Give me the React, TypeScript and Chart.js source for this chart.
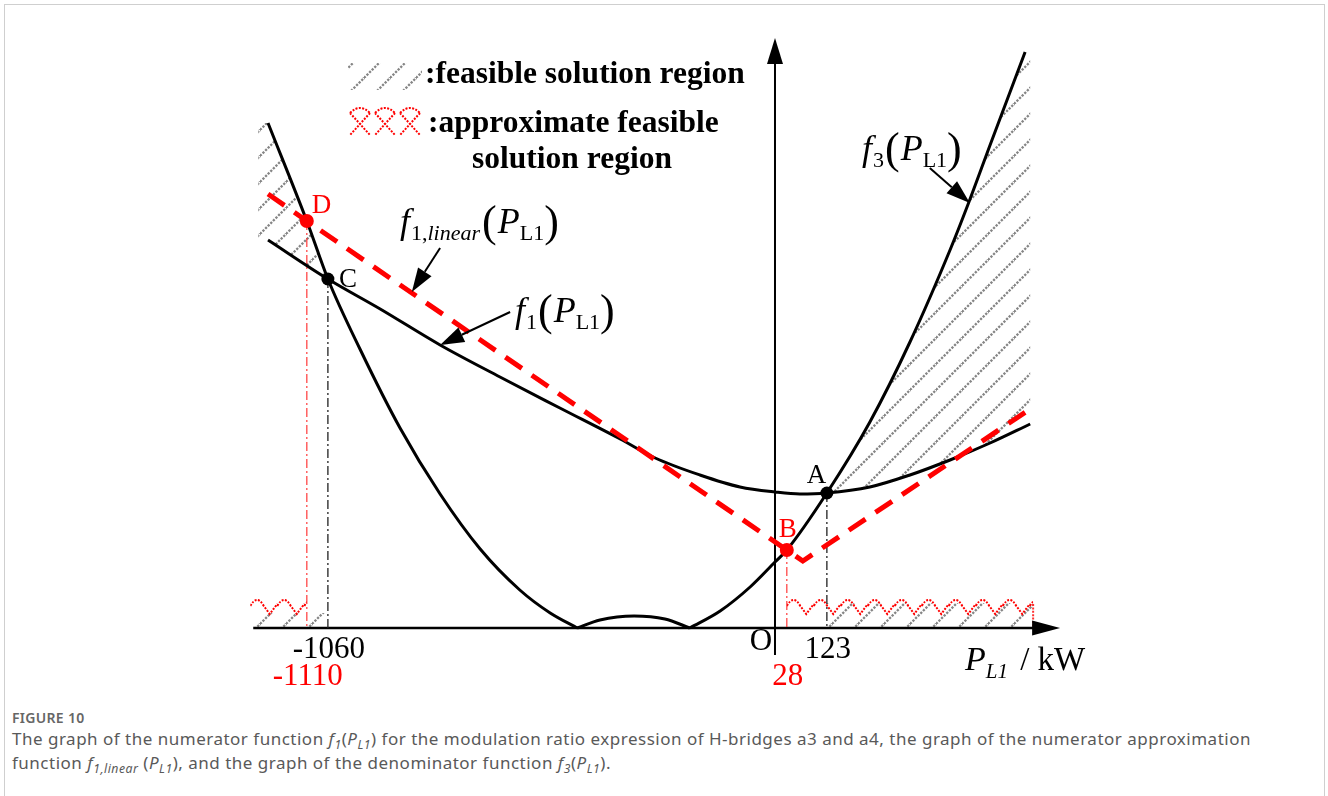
import { useEffect, useRef } from "react";
import { Chart, registerables } from "chart.js";

Chart.register(...registerables);

const SERIF = '"Liberation Serif", "Times New Roman", serif';

// ---- data: P_L1 in kW, function values in arbitrary units ----
// f1(P_L1): numerator function
const f1X = [-1202, -1060, -936, -794, -652, -510, -367, -284, -178, -83, 0, 59, 123, 225, 320, 415, 510, 605];
const f1Y = [388, 349, 319, 283, 251, 220, 189, 170, 153, 141, 136, 134, 135, 141, 153, 168, 185, 204];

// f3(P_L1): denominator function (absolute value of a quadratic)
const f3X = [-1202, -1110, -1060, -984, -889, -794, -699, -605, -533, -469, -415, -334, -261, -202, -130, -59, 0, 28, 123, 225, 320, 415, 458, 510, 593];
const f3Y = [505, 407, 349, 279, 200, 134, 79, 38, 15, 0, 8, 12, 9, 0, 17, 41, 66, 78, 135, 206, 286, 378, 424, 483, 576];

// f1,linear(P_L1): numerator approximation
const fLinX = [-1202, -1110, 28, 66, 605];
const fLinY = [434, 407, 78, 67, 219];

// marked intersection points
const pointNames = ["A", "B", "C", "D"];
const pointX = [123, 28, -1060, -1110];
const pointY = [135, 78, 349, 407];
const pointColors = ["#000000", "#ff0000", "#000000", "#ff0000"];

// tick labels on the P_L1 axis
const tickValues = [-1060, 123, -1110, 28];
const tickLabels = ["-1060", "123", "-1110", "28"];
const tickColors = ["#000000", "#000000", "#ff0000", "#ff0000"];
const tickRows = [0, 0, 1, 1];

// regions (kW ranges)
const feasibleLeft = [-1225, -1060];
const feasibleRight = [123, 605];
const approxLeft = [-1244, -1110];
const approxRight = [28, 612];

// scale window
const X_MIN = -1837.4;
const X_MAX = 1311.1;
const Y_MIN = -72;
const Y_MAX = 628;
const X_AXIS = [-1237, 676];
const Y_AXIS = [-27, 590];

type Run = { t: string; f: string; dy?: number; k?: number };

function drawRuns(ctx: CanvasRenderingContext2D, x: number, y: number, runs: Run[], color = "#000") {
  let cx = x;
  ctx.fillStyle = color;
  ctx.textAlign = "left";
  ctx.textBaseline = "alphabetic";
  for (const r of runs) {
    ctx.font = r.f;
    ctx.fillText(r.t, cx, y + (r.dy || 0));
    cx += ctx.measureText(r.t).width + (r.k || 0);
  }
}

function fLabel(sub: Run[]): Run[] {
  return [
    { t: "f", f: `italic 36px ${SERIF}`, k: 1 },
    ...sub,
    { t: "(", f: `44px ${SERIF}`, dy: 3, k: 1 },
    { t: "P", f: `italic 36px ${SERIF}` },
    { t: "L1", f: `22px ${SERIF}`, dy: 7 },
    { t: ")", f: `44px ${SERIF}`, dy: 3 },
  ];
}

function arrow(ctx: CanvasRenderingContext2D, x1: number, y1: number, x2: number, y2: number) {
  const a = Math.atan2(y2 - y1, x2 - x1);
  const hl = 24, hw = 8;
  const bx = x2 - hl * Math.cos(a), by = y2 - hl * Math.sin(a);
  ctx.save();
  ctx.strokeStyle = "#000";
  ctx.fillStyle = "#000";
  ctx.lineWidth = 2;
  ctx.setLineDash([]);
  ctx.beginPath();
  ctx.moveTo(x1, y1);
  ctx.lineTo(bx, by);
  ctx.stroke();
  ctx.beginPath();
  ctx.moveTo(x2, y2);
  ctx.lineTo(bx + hw * Math.sin(a), by - hw * Math.cos(a));
  ctx.lineTo(bx - hw * Math.sin(a), by + hw * Math.cos(a));
  ctx.closePath();
  ctx.fill();
  ctx.restore();
}

let hatchCache: CanvasPattern | null = null;
function hatchPattern(ctx: CanvasRenderingContext2D) {
  if (hatchCache) return hatchCache;
  const s = 26;
  const c = document.createElement("canvas");
  c.width = s;
  c.height = s;
  const g = c.getContext("2d")!;
  g.strokeStyle = "#858585";
  g.lineWidth = 2.3;
  const diag = s * Math.SQRT2;
  g.setLineDash([2.3, diag / 10 - 2.3]);
  g.beginPath();
  g.moveTo(0, s);
  g.lineTo(s, 0);
  g.stroke();
  g.beginPath();
  g.moveTo(-4, 4);
  g.lineTo(4, -4);
  g.moveTo(s - 4, s + 4);
  g.lineTo(s + 4, s - 4);
  g.stroke();
  hatchCache = ctx.createPattern(c, "repeat");
  return hatchCache!;
}

function redScallops(ctx: CanvasRenderingContext2D, px0: number, px1: number, top: number, bottom: number) {
  ctx.save();
  ctx.beginPath();
  ctx.rect(px0, top - 6, px1 - px0, bottom - top + 10);
  ctx.clip();
  ctx.strokeStyle = "#ff0000";
  ctx.lineWidth = 2;
  ctx.setLineDash([2, 1.4]);
  const w = 27;
  ctx.beginPath();
  for (let xa = px0; xa < px1; xa += w) {
    ctx.moveTo(xa, top + 6);
    ctx.quadraticCurveTo(xa + w * 0.25, top - 6, xa + w * 0.5, top + 6);
    ctx.lineTo(xa + w * 0.72, bottom);
    ctx.lineTo(xa + w, top + 4);
  }
  ctx.stroke();
  ctx.restore();
}

function segPts(xs: number[], ys: number[], lo: number, hi: number) {
  const out: [number, number][] = [];
  xs.forEach((x, i) => {
    if (x >= lo && x <= hi) out.push([x, ys[i]]);
  });
  return out;
}

const decorPlugin = {
  id: "figureDecor",
  beforeDatasetsDraw(chart: any) {
    const ctx: CanvasRenderingContext2D = chart.ctx;
    const X = (v: number) => chart.scales.x.getPixelForValue(v);
    const Y = (v: number) => chart.scales.y.getPixelForValue(v);
    const hatch = hatchPattern(ctx);

    // feasible region left of C (between f1 and f3)
    ctx.save();
    ctx.fillStyle = hatch;
    ctx.beginPath();
    const upL = segPts(f3X, f3Y, -9999, feasibleLeft[1]);
    const loL = segPts(f1X, f1Y, -9999, feasibleLeft[1]).reverse();
    ctx.moveTo(X(feasibleLeft[0]), Y(upL[0][1]));
    upL.forEach(([x, y]) => ctx.lineTo(X(x), Y(y)));
    loL.forEach(([x, y]) => ctx.lineTo(X(x), Y(y)));
    ctx.lineTo(X(feasibleLeft[0]), Y(loL[loL.length - 1][1]));
    ctx.closePath();
    ctx.fill();

    // feasible region right of A
    ctx.beginPath();
    const upR = segPts(f3X, f3Y, feasibleRight[0], feasibleRight[1]);
    const loR = segPts(f1X, f1Y, feasibleRight[0], feasibleRight[1]).reverse();
    upR.forEach(([x, y], i) => (i === 0 ? ctx.moveTo(X(x), Y(y)) : ctx.lineTo(X(x), Y(y))));
    ctx.lineTo(X(feasibleRight[1]), Y(upR[upR.length - 1][1]));
    loR.forEach(([x, y]) => ctx.lineTo(X(x), Y(y)));
    ctx.closePath();
    ctx.fill();

    // strips on the axis
    ctx.fillRect(X(X_AXIS[0]), Y(15), X(feasibleLeft[1]) - X(X_AXIS[0]), Y(0) - Y(15));
    ctx.fillRect(X(feasibleRight[0]), Y(25), X(approxRight[1]) - X(feasibleRight[0]), Y(0) - Y(25));
    ctx.restore();

    redScallops(ctx, X(approxLeft[0]), X(approxLeft[1]), Y(28), Y(14));
    redScallops(ctx, X(approxRight[0]), X(approxRight[1]), Y(28), Y(14));
    ctx.save();
    ctx.strokeStyle = "#ff3030";
    ctx.lineWidth = 2;
    ctx.setLineDash([2, 1.4]);
    ctx.beginPath();
    ctx.moveTo(X(approxRight[1]), Y(24));
    ctx.lineTo(X(approxRight[1]), Y(0));
    ctx.stroke();
    ctx.restore();

    // axes
    ctx.save();
    ctx.strokeStyle = "#000";
    ctx.fillStyle = "#000";
    ctx.lineWidth = 2.5;
    const ax0 = Y(0);
    const tipX = X(X_AXIS[1]);
    ctx.beginPath();
    ctx.moveTo(X(X_AXIS[0]), ax0);
    ctx.lineTo(tipX - 26, ax0);
    ctx.stroke();
    ctx.beginPath();
    ctx.moveTo(tipX, ax0);
    ctx.lineTo(tipX - 28, ax0 - 7.5);
    ctx.lineTo(tipX - 28, ax0 + 7.5);
    ctx.closePath();
    ctx.fill();
    const ox = X(0);
    const tipY = Y(Y_AXIS[1]);
    ctx.lineWidth = 2;
    ctx.beginPath();
    ctx.moveTo(ox, Y(Y_AXIS[0]));
    ctx.lineTo(ox, tipY + 24);
    ctx.stroke();
    ctx.beginPath();
    ctx.moveTo(ox, tipY);
    ctx.lineTo(ox - 8, tipY + 26);
    ctx.lineTo(ox + 8, tipY + 26);
    ctx.closePath();
    ctx.fill();
    ctx.restore();
  },
  afterDatasetsDraw(chart: any) {
    const ctx: CanvasRenderingContext2D = chart.ctx;
    const X = (v: number) => chart.scales.x.getPixelForValue(v);
    const Y = (v: number) => chart.scales.y.getPixelForValue(v);

    // tick labels
    ctx.save();
    ctx.font = `31px ${SERIF}`;
    ctx.textAlign = "center";
    ctx.textBaseline = "alphabetic";
    tickValues.forEach((v, i) => {
      ctx.fillStyle = tickColors[i];
      ctx.fillText(tickLabels[i], X(v) + 1, Y(0) + (tickRows[i] === 0 ? 30 : 57));
    });
    ctx.fillStyle = "#000";
    ctx.fillText("O", X(0) - 14, Y(0) + 22);
    ctx.restore();

    // axis title P_L1 / kW
    drawRuns(ctx, 965, 670, [
      { t: "P", f: `italic 34px ${SERIF}` },
      { t: "L1", f: `italic 21px ${SERIF}`, dy: 8, k: 4 },
      { t: " / kW", f: `33px ${SERIF}` },
    ]);

    // point labels
    ctx.save();
    ctx.font = `27px ${SERIF}`;
    ctx.textAlign = "left";
    const offs: [number, number][] = [[-20, -10], [-8, -13], [11, 8], [5, -8]];
    pointNames.forEach((n, i) => {
      ctx.fillStyle = pointColors[i];
      ctx.fillText(n, X(pointX[i]) + offs[i][0], Y(pointY[i]) + offs[i][1]);
    });
    ctx.restore();

    // curve labels
    drawRuns(ctx, 400, 233, fLabel([
      { t: "1,", f: `22px ${SERIF}`, dy: 7 },
      { t: "linear", f: `italic 22px ${SERIF}`, dy: 7, k: 2 },
    ]));
    drawRuns(ctx, 515, 322, fLabel([{ t: "1", f: `22px ${SERIF}`, dy: 7, k: 1 }]));
    drawRuns(ctx, 862, 160, fLabel([{ t: "3", f: `22px ${SERIF}`, dy: 7, k: 1 }]));

    arrow(ctx, X(-794), Y(380), X(-861), Y(336));
    arrow(ctx, X(-628), Y(316), X(-794), Y(283));
    arrow(ctx, X(367), Y(460), X(462), Y(425));

    // legend
    const hatch = hatchPattern(ctx);
    ctx.save();
    ctx.fillStyle = hatch;
    ctx.fillRect(348, 63, 74, 27);
    ctx.strokeStyle = "#ff0000";
    ctx.lineWidth = 2;
    ctx.setLineDash([2, 1.4]);
    ctx.beginPath();
    for (let i = 0; i < 3; i++) {
      const cx = 360 + i * 25;
      ctx.moveTo(cx - 10, 113);
      ctx.lineTo(cx + 10, 135);
      ctx.moveTo(cx + 10, 113);
      ctx.lineTo(cx - 10, 135);
      ctx.moveTo(cx - 10, 113);
      ctx.quadraticCurveTo(cx, 103, cx + 10, 113);
    }
    ctx.stroke();
    ctx.restore();
    drawRuns(ctx, 425, 83, [{ t: ":feasible solution region", f: `bold 31.5px ${SERIF}` }]);
    drawRuns(ctx, 428, 132, [{ t: ":approximate feasible", f: `bold 31.5px ${SERIF}` }]);
    ctx.save();
    ctx.font = `bold 31.5px ${SERIF}`;
    ctx.fillStyle = "#000";
    ctx.textAlign = "center";
    ctx.fillText("solution region", 572, 168);
    ctx.restore();
  },
};

export default function App() {
  const ref = useRef<HTMLCanvasElement>(null);
  useEffect(() => {
    const canvas = ref.current!;
    const toPts = (xs: number[], ys: number[]) => xs.map((x, i) => ({ x, y: ys[i] }));
    const zeros = f3Y.map((y, i) => (y === 0 ? i : -1)).filter((i) => i >= 0);
    const cuts = [0, ...zeros, f3X.length - 1];
    const f3Sets = [] as any[];
    for (let s = 0; s < cuts.length - 1; s++) {
      f3Sets.push({
        label: "f3",
        data: toPts(f3X.slice(cuts[s], cuts[s + 1] + 1), f3Y.slice(cuts[s], cuts[s + 1] + 1)),
        showLine: true,
        borderColor: "#000",
        borderWidth: 3,
        pointRadius: 0,
        cubicInterpolationMode: "monotone",
        fill: false,
        order: 3,
      });
    }
    const drops = pointX.map((x, i) => ({
      label: "drop" + pointNames[i],
      data: [{ x, y: pointY[i] }, { x, y: 0 }],
      showLine: true,
      borderColor: pointColors[i] === "#ff0000" ? "rgba(255,40,40,0.85)" : "#222",
      borderWidth: 1.3,
      borderDash: [9, 3, 2, 3],
      pointRadius: 0,
      fill: false,
      order: 6,
    }));
    const chart = new Chart(canvas, {
      type: "scatter",
      data: {
        datasets: [
          {
            label: "points",
            data: toPts(pointX, pointY),
            showLine: false,
            pointRadius: [6.5, 7, 6.5, 7],
            pointBackgroundColor: pointColors,
            pointBorderWidth: 0,
            order: 0,
          } as any,
          {
            label: "f1,linear",
            data: toPts(fLinX, fLinY),
            showLine: true,
            borderColor: "#ff0000",
            borderWidth: 5,
            borderDash: [20, 12],
            pointRadius: 0,
            fill: false,
            order: 1,
          },
          {
            label: "f1",
            data: toPts(f1X, f1Y),
            showLine: true,
            borderColor: "#000",
            borderWidth: 3,
            pointRadius: 0,
            cubicInterpolationMode: "monotone",
            fill: false,
            order: 2,
          },
          ...f3Sets,
          ...drops,
        ],
      },
      options: {
        responsive: false,
        animation: false,
        devicePixelRatio: 1,
        events: [],
        layout: { padding: 0, autoPadding: false },
        plugins: { legend: { display: false }, tooltip: { enabled: false }, title: { display: false } },
        scales: {
          x: { type: "linear", display: false, min: X_MIN, max: X_MAX },
          y: { type: "linear", display: false, min: Y_MIN, max: Y_MAX },
        },
      } as any,
      plugins: [decorPlugin as any],
    });
    return () => chart.destroy();
  }, []);

  const sub = { fontSize: "0.72em", verticalAlign: "-0.3em", lineHeight: 0 } as const;
  return (
    <div style={{ position: "absolute", left: 0, top: 0, width: 1328, height: 796, overflow: "hidden", background: "#fff" }}>
      <div style={{ position: "absolute", left: 4, top: 4, width: 1321, height: 820, border: "1px solid #cfcfcf", boxSizing: "border-box" }} />
      <canvas ref={ref} width={1328} height={700} style={{ position: "absolute", left: 0, top: 0 }} />
      <div style={{ position: "absolute", left: 12, top: 709, width: 1310, fontFamily: '"Noto Sans", sans-serif', color: "#595959" }}>
        <div style={{ fontSize: 14, fontWeight: 600, lineHeight: "18px", color: "#666", letterSpacing: 0.3 }}>FIGURE 10</div>
        <div style={{ fontSize: 17, lineHeight: "24px", letterSpacing: 0.5 }}>
          The graph of the numerator function <i>f</i><i style={sub}>1</i>(<i>P</i><i style={sub}>L1</i>) for the modulation ratio expression of H-bridges a3 and a4, the graph of the numerator approximation
          <br />
          function <i>f</i><i style={sub}>1,linear</i> (<i>P</i><i style={sub}>L1</i>), and the graph of the denominator function <i>f</i><i style={sub}>3</i>(<i>P</i><i style={sub}>L1</i>).
        </div>
      </div>
    </div>
  );
}
